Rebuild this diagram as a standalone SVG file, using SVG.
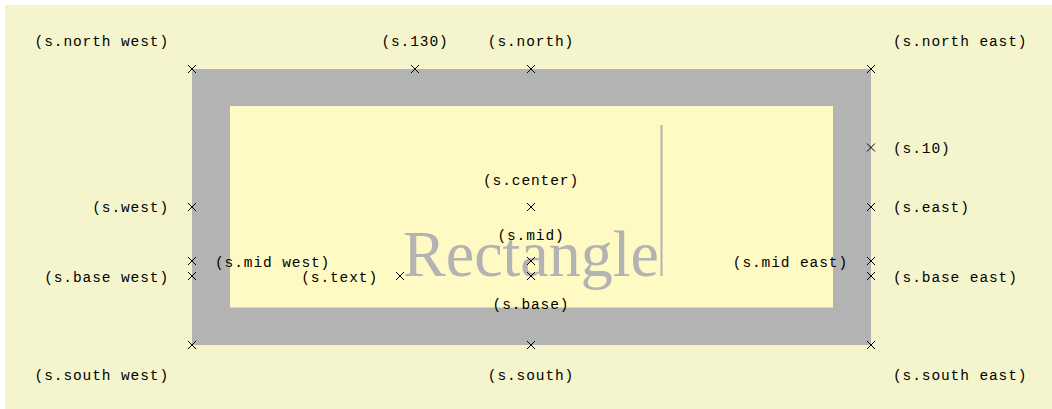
<svg xmlns="http://www.w3.org/2000/svg" xmlns:xlink="http://www.w3.org/1999/xlink" width="1052" height="409" viewBox="0 0 1052 409">
<style>
.lbl{font-family:"Liberation Mono","DejaVu Sans Mono",monospace;font-size:14.5px;letter-spacing:0.9px;fill:#000}
.e{text-anchor:end}
.m{text-anchor:middle}
.cross{stroke:#000;stroke-width:1;fill:none}
.big{font-family:"Liberation Serif","DejaVu Serif",serif;font-size:65px;fill:#B3B3B3}
</style>
<defs>
<path id="x" class="cross" d="M-4,-4 L4,4 M-4,4 L4,-4"/>
</defs>
<rect x="5" y="5" width="1047" height="404" fill="#F4F5CD"/>
<g id="s">
<rect x="192" y="69" width="679" height="276" fill="#B3B3B3"/>
<rect x="230" y="106" width="603" height="201.5" fill="#FFFAC3"/>
<text class="big" x="403" y="276" textLength="256" lengthAdjust="spacingAndGlyphs">Rectangle</text>
<line x1="661.5" y1="125" x2="661.5" y2="276" stroke="#B3B3B3" stroke-width="2"/>
</g>
<g id="a-north-west"><use xlink:href="#x" x="192" y="69"/><text class="lbl e" x="169" y="46">(s.north west)</text></g>
<g id="a-130"><use xlink:href="#x" x="415" y="69"/><text class="lbl m" x="415" y="46">(s.130)</text></g>
<g id="a-north"><use xlink:href="#x" x="531" y="69"/><text class="lbl m" x="531" y="46">(s.north)</text></g>
<g id="a-north-east"><use xlink:href="#x" x="871" y="69"/><text class="lbl" x="893" y="46">(s.north east)</text></g>
<g id="a-10"><use xlink:href="#x" x="871" y="147.5"/><text class="lbl" x="893" y="152.5">(s.10)</text></g>
<g id="a-west"><use xlink:href="#x" x="192" y="207"/><text class="lbl e" x="169" y="212">(s.west)</text></g>
<g id="a-east"><use xlink:href="#x" x="871" y="207"/><text class="lbl" x="893" y="212">(s.east)</text></g>
<g id="a-center"><use xlink:href="#x" x="531" y="207"/><text class="lbl m" x="531" y="185">(s.center)</text></g>
<g id="a-mid-west"><use xlink:href="#x" x="192" y="261"/><text class="lbl" x="215" y="267">(s.mid west)</text></g>
<g id="a-mid"><use xlink:href="#x" x="531" y="261"/><text class="lbl m" x="531" y="240">(s.mid)</text></g>
<g id="a-mid-east"><use xlink:href="#x" x="871" y="261"/><text class="lbl e" x="848" y="267">(s.mid east)</text></g>
<g id="a-base-west"><use xlink:href="#x" x="192" y="276"/><text class="lbl e" x="169" y="281.5">(s.base west)</text></g>
<g id="a-text"><use xlink:href="#x" x="400" y="276"/><text class="lbl e" x="378" y="281.5">(s.text)</text></g>
<g id="a-base"><use xlink:href="#x" x="531" y="276"/><text class="lbl m" x="531" y="309">(s.base)</text></g>
<g id="a-base-east"><use xlink:href="#x" x="871" y="276"/><text class="lbl" x="893" y="281.5">(s.base east)</text></g>
<g id="a-south-west"><use xlink:href="#x" x="192" y="345"/><text class="lbl e" x="169" y="380">(s.south west)</text></g>
<g id="a-south"><use xlink:href="#x" x="531" y="345"/><text class="lbl m" x="531" y="380">(s.south)</text></g>
<g id="a-south-east"><use xlink:href="#x" x="871" y="345"/><text class="lbl" x="893" y="380">(s.south east)</text></g>
</svg>
